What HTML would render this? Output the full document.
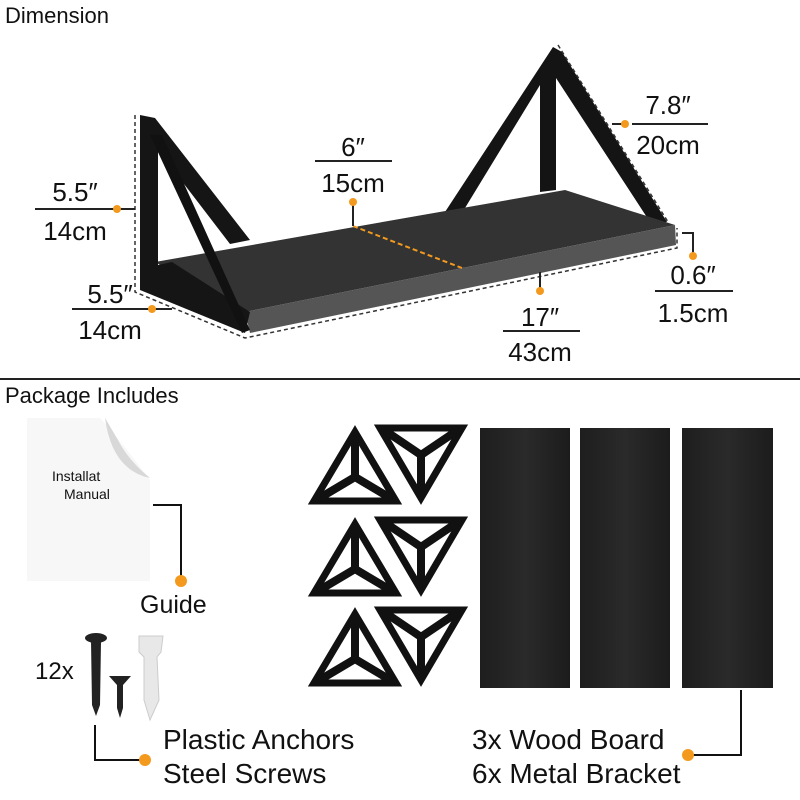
<!DOCTYPE html>
<html><head><meta charset="utf-8"><style>
html,body{margin:0;padding:0;background:#fff;}
svg{display:block;}
text{font-family:"Liberation Sans Narrow","Liberation Sans",sans-serif;fill:#111;}
</style></head><body>
<svg width="800" height="800" viewBox="0 0 800 800" xmlns="http://www.w3.org/2000/svg">
<defs>
<linearGradient id="wood" x1="0" y1="0" x2="1" y2="0"><stop offset="0" stop-color="#1e1e1e"/><stop offset="0.5" stop-color="#2a2a2a"/><stop offset="1" stop-color="#1c1c1c"/></linearGradient>
<g id="tup"><polygon points="45,5 86,74 4,74" fill="none" stroke="#111" stroke-width="7" stroke-linejoin="miter"/><path d="M45,6 L45,50 M45,50 L8,72 M45,50 L82,72" stroke="#111" stroke-width="8" fill="none"/></g>
<g id="tdn"><polygon points="4,3 86,3 45,73" fill="none" stroke="#111" stroke-width="7"/><path d="M45,72 L45,30 M45,30 L8,5 M45,30 L82,5" stroke="#111" stroke-width="8" fill="none"/></g>
</defs>

<text x="5" y="23" font-size="22" style="font-family:'Liberation Sans',sans-serif">Dimension</text>

<!-- right bracket (behind) -->
<polygon points="553,47 562,52 667,222 650,222 556,78 556,190 540,192 540,85 465,208 445,212" fill="#141414"/>
<!-- shelf -->
<polygon points="155,262 565,190 675,225 245,312" fill="#333"/>
<polygon points="245,312 675,225 676,245 250,333" fill="#555"/>
<!-- left bracket -->
<polygon points="140,115 155,118 250,240 230,244 158,150 158,265 172,262 250,312 245,333 140,290" fill="#151515"/>
<polygon points="150,135 162,135 250,330 242,333" fill="#111"/>

<!-- dashed lines -->
<g stroke="#333" stroke-width="1.5" stroke-dasharray="4,3" fill="none">
<path d="M135,115 V292 L245,338 L677,248 V228"/>
<path d="M558,45 L668,222"/>
</g>
<line x1="353" y1="226" x2="462" y2="268" stroke="#f39a1e" stroke-width="2" stroke-dasharray="5,3"/>

<!-- labels -->
<g font-size="26" text-anchor="middle">
<text x="75" y="201">5.5″</text><text x="75" y="240">14cm</text>
<text x="353" y="156">6″</text><text x="353" y="192">15cm</text>
<text x="668" y="114">7.8″</text><text x="668" y="154">20cm</text>
<text x="110" y="303">5.5″</text><text x="110" y="339">14cm</text>
<text x="540" y="326">17″</text><text x="540" y="361">43cm</text>
<text x="693" y="284">0.6″</text><text x="693" y="322">1.5cm</text>
</g>
<g stroke="#222" stroke-width="2">
<line x1="35" y1="209" x2="115" y2="209"/><line x1="118" y1="209" x2="135" y2="209"/>
<line x1="315" y1="161" x2="392" y2="161"/><line x1="353" y1="202" x2="353" y2="226"/>
<line x1="632" y1="124" x2="708" y2="124"/><line x1="612" y1="124" x2="625" y2="124"/>
<line x1="72" y1="309" x2="150" y2="309"/><line x1="152" y1="309" x2="172" y2="309"/>
<line x1="503" y1="331" x2="580" y2="331"/><line x1="540" y1="290" x2="540" y2="272"/>
<line x1="655" y1="291" x2="733" y2="291"/><path d="M682,233 H693 V255" fill="none"/>
</g>
<g fill="#f39a1e">
<circle cx="117" cy="209" r="4"/><circle cx="353" cy="202" r="4"/><circle cx="625" cy="124" r="4"/>
<circle cx="152" cy="309" r="4"/><circle cx="540" cy="291" r="4"/><circle cx="693" cy="256" r="4"/>
</g>

<line x1="0" y1="379" x2="800" y2="379" stroke="#222" stroke-width="2"/>
<text x="5" y="403" font-size="22" style="font-family:'Liberation Sans',sans-serif">Package Includes</text>

<!-- manual -->
<rect x="27" y="418" width="123" height="163" fill="#f7f7f7"/>
<path d="M100,418 Q120,440 150,480 L150,418 Z" fill="#fff"/>
<path d="M105,418 Q112,470 150,478 Q128,460 118,440 Z" fill="#d8d8d8"/>
<text x="52" y="481" font-size="14" style="font-family:'Liberation Sans',sans-serif">Installat</text>
<text x="64" y="499" font-size="14" style="font-family:'Liberation Sans',sans-serif">Manual</text>
<path d="M153,505 H181 V578" stroke="#111" stroke-width="2" fill="none"/>
<circle cx="181" cy="581" r="6" fill="#f39a1e"/>
<text x="140" y="613" font-size="25" style="font-family:'Liberation Sans',sans-serif">Guide</text>

<!-- screws -->
<text x="35" y="679" font-size="24" style="font-family:'Liberation Sans',sans-serif">12x</text>
<ellipse cx="96" cy="638" rx="11" ry="5" fill="#222"/>
<polygon points="91,641 101,641 100,705 96,716 92,705" fill="#222"/>
<polygon points="109,676 131,676 123,685 123,708 120,718 117,708 117,685" fill="#222"/>
<polygon points="139,636 163,636 161,652 157,657 159,700 150,720 144,700 144,657 139,652" fill="#e8e8e8" stroke="#ccc"/>
<path d="M95,725 V760 H143" stroke="#111" stroke-width="2" fill="none"/>
<circle cx="145" cy="760" r="6" fill="#f39a1e"/>
<g font-size="28" style="font-family:'Liberation Sans',sans-serif">
<text x="163" y="749">Plastic Anchors</text>
<text x="163" y="783">Steel Screws</text>
<text x="472" y="749">3x Wood Board</text>
<text x="472" y="783">6x Metal Bracket</text>
</g>

<!-- brackets -->
<use href="#tup" x="310" y="427"/><use href="#tdn" x="376" y="425"/>
<use href="#tup" x="310" y="519"/><use href="#tdn" x="376" y="517"/>
<use href="#tup" x="310" y="609"/><use href="#tdn" x="376" y="607"/>

<!-- boards -->
<rect x="480" y="428" width="90" height="260" fill="url(#wood)"/>
<rect x="580" y="428" width="90" height="260" fill="url(#wood)"/>
<rect x="682" y="428" width="91" height="260" fill="url(#wood)"/>
<path d="M741,690 V755 H692" stroke="#111" stroke-width="2" fill="none"/>
<circle cx="688" cy="755" r="6" fill="#f39a1e"/>
</svg>
</body></html>
